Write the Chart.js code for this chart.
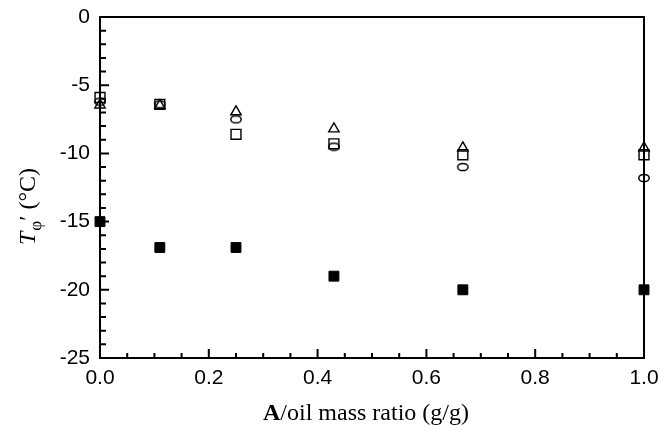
<!DOCTYPE html>
<html>
<head>
<meta charset="utf-8">
<script src="https://cdn.jsdelivr.net/npm/chart.js@4/dist/chart.umd.min.js"></script>
<style>
  html, body { margin: 0; padding: 0; background: #fff; }
  #wrap { width: 661px; height: 431px; }
</style>
</head>
<body>
<div id="wrap"><canvas id="chart1" width="661" height="431"></canvas></div>
<script>
// mass ratio (g/g) on x, T'phi (°C) on y
const massRatio = [0, 0.11, 0.25, 0.43, 0.667, 1.0];
const filledSquare = [-15.0, -16.9, -16.9, -19.0, -20.0, -20.0];
const openSquare = [-5.9, -6.4, -8.6, -9.3, -10.1, -10.1];
const openTriangle = [-6.45, -6.5, -6.95, -8.2, -9.6, -9.6];
const openCircle = [-6.2, -6.4, -7.5, -9.5, -11.0, -11.8];
const xTicks = [0, 0.2, 0.4, 0.6, 0.8, 1.0];
const yTicks = [0, -5, -10, -15, -20, -25];

function toPoints(ys) {
  return massRatio.map((x, i) => ({ x: x, y: ys[i] }));
}

// little open ellipse used for the circle series
function ellipseMarker() {
  const c = document.createElement('canvas');
  c.width = 14; c.height = 10;
  const g = c.getContext('2d');
  g.strokeStyle = '#000';
  g.lineWidth = 1.5;
  g.beginPath();
  g.ellipse(7, 5, 5.2, 3.6, 0, 0, Math.PI * 2);
  g.stroke();
  return c;
}

// frame, inward tick marks and axis titles
const frameAndTitles = {
  id: 'frameAndTitles',
  afterDraw(chart) {
    const { ctx, chartArea: a, scales: { x, y } } = chart;
    ctx.save();
    ctx.strokeStyle = '#000';
    ctx.lineWidth = 2;
    ctx.strokeRect(a.left, a.top, a.right - a.left, a.bottom - a.top);

    ctx.beginPath();
    for (let i = 0; i <= 20; i++) {
      const px = x.getPixelForValue(i * 0.05);
      const len = i % 4 === 0 ? 9 : 5;
      ctx.moveTo(px, a.bottom);
      ctx.lineTo(px, a.bottom - len);
    }
    for (let i = 0; i <= 25; i++) {
      const py = y.getPixelForValue(-i);
      const len = i % 5 === 0 ? 9 : 6;
      ctx.moveTo(a.left, py);
      ctx.lineTo(a.left + len, py);
    }
    ctx.stroke();

    // x title
    ctx.fillStyle = '#000';
    ctx.textBaseline = 'alphabetic';
    const serif = '"Liberation Serif", "Times New Roman", serif';
    ctx.font = 'bold 24px ' + serif;
    const aW = ctx.measureText('A').width;
    ctx.font = '24px ' + serif;
    const rest = '/oil mass ratio (g/g)';
    const restW = ctx.measureText(rest).width;
    let tx = 366 - (aW + restW) / 2;
    ctx.font = 'bold 24px ' + serif;
    ctx.fillText('A', tx, 420);
    ctx.font = '24px ' + serif;
    ctx.fillText(rest, tx + aW, 420);

    // y title, rotated
    ctx.translate(35, 245);
    ctx.rotate(-Math.PI / 2);
    let cx = 0;
    ctx.font = 'italic 24px ' + serif;
    ctx.fillText('T', cx, 0);
    cx += ctx.measureText('T').width + 1;
    ctx.font = '17px ' + serif;
    ctx.fillText('φ', cx, 6);
    cx += ctx.measureText('φ').width;
    ctx.font = '24px ' + serif;
    ctx.fillText('′', cx, 0);
    cx += ctx.measureText('′').width;
    ctx.fillText(' (°C)', cx, 0);
    ctx.restore();
  }
};

const tickFont = { family: '"Liberation Sans", Arial, sans-serif', size: 21 };

new Chart(document.getElementById('chart1').getContext('2d'), {
  type: 'scatter',
  data: {
    datasets: [
      {
        label: 'filled square',
        data: toPoints(filledSquare),
        pointStyle: 'rect',
        pointRadius: 7,
        backgroundColor: '#000',
        borderColor: '#000',
        borderWidth: 1
      },
      {
        label: 'open square',
        data: toPoints(openSquare),
        pointStyle: 'rect',
        pointRadius: 7,
        backgroundColor: 'rgba(0,0,0,0)',
        borderColor: '#000',
        borderWidth: 1.4
      },
      {
        label: 'open triangle',
        data: toPoints(openTriangle),
        pointStyle: 'triangle',
        pointRadius: 6,
        backgroundColor: 'rgba(0,0,0,0)',
        borderColor: '#000',
        borderWidth: 1.4
      },
      {
        label: 'open circle',
        data: toPoints(openCircle),
        pointStyle: ellipseMarker(),
        pointRadius: 5
      }
    ]
  },
  options: {
    responsive: false,
    animation: false,
    clip: false,
    layout: { padding: { top: 17, right: 17, left: 0, bottom: 0 } },
    plugins: {
      legend: { display: false },
      tooltip: { enabled: false }
    },
    scales: {
      x: {
        type: 'linear',
        min: 0,
        max: 1,
        afterFit(s) { s.height = 73; },
        afterBuildTicks(s) { s.ticks = xTicks.map(v => ({ value: v })); },
        grid: { display: false },
        border: { display: false },
        ticks: {
          color: '#000',
          font: tickFont,
          padding: 0,
          maxRotation: 0,
          callback: v => v.toFixed(1)
        }
      },
      y: {
        type: 'linear',
        min: -25,
        max: 0,
        afterFit(s) { s.width = 100; },
        afterBuildTicks(s) { s.ticks = yTicks.map(v => ({ value: v })); },
        grid: { display: false },
        border: { display: false },
        ticks: {
          color: '#000',
          font: tickFont,
          padding: 2,
          callback: v => String(v)
        }
      }
    }
  },
  plugins: [frameAndTitles]
});
</script>
</body>
</html>
